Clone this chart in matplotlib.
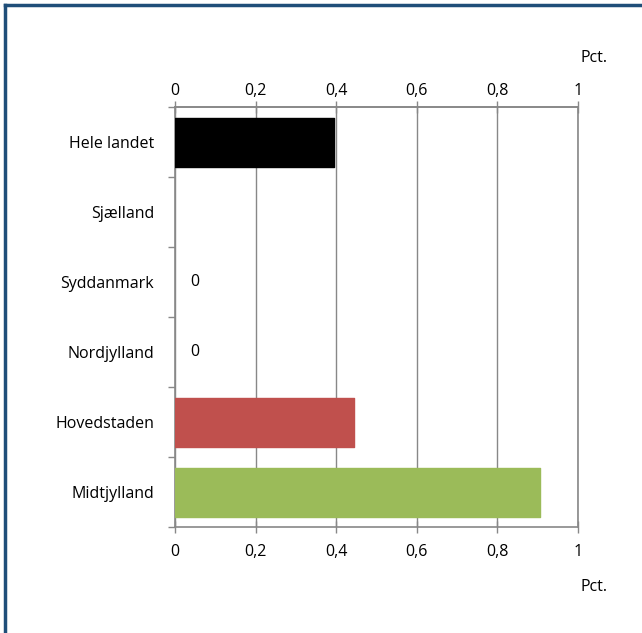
import numpy as np
import matplotlib
matplotlib.use('Agg')
import matplotlib.pyplot as plt
from matplotlib.lines import Line2D

# data
regions = ['Hele landet', 'Sjælland', 'Syddanmark', 'Nordjylland', 'Hovedstaden', 'Midtjylland']
values = [0.395, None, 0.0, 0.0, 0.445, 0.905]
colors = ['#000000', '#000000', '#4F81BD', '#4F81BD', '#C0504D', '#9BBB59']
xticks = [0, 0.2, 0.4, 0.6, 0.8, 1.0]
xticklabels = ['0', '0,2', '0,4', '0,6', '0,8', '1']

plt.rcParams['font.family'] = ['Open Sans', 'DejaVu Sans']
fs = 11.5
grey = '#888888'

fig = plt.figure(figsize=(6.42, 6.33), dpi=100)
ax = fig.add_axes([175/642, 1 - 527/633, 403/642, 420/633])

ypos = np.arange(len(regions))
for y, v, c in zip(ypos, values, colors):
    if v is None:
        continue
    if v > 0:
        ax.barh(y, v, height=0.7, color=c, edgecolor=c, linewidth=1, joinstyle='round', zorder=3)
    else:
        # zero value -> only a data label
        ax.text(0.05, y, '0', ha='center', va='center', fontsize=fs, zorder=4)

ax.set_ylim(len(regions) - 0.5, -0.5)
ax.set_xlim(0, 1)
ax.set_yticks(ypos)
ax.set_yticklabels(regions, fontsize=fs)
ax.set_yticks(np.arange(-0.5, len(regions)), minor=True)
ax.tick_params(axis='y', which='major', length=0, pad=15)
ax.tick_params(axis='y', which='minor', length=5, color=grey, width=1)

ax.set_xticks(xticks)
ax.set_xticklabels(xticklabels, fontsize=fs)
ax.tick_params(axis='x', top=False, bottom=True, direction='inout',
               length=8, color=grey, width=1, pad=8)
ax.xaxis.grid(True, color=grey, linewidth=1, zorder=0)

# top axis with its own padding
top = ax.secondary_xaxis('top')
top.set_xticks(xticks)
top.set_xticklabels(xticklabels, fontsize=fs)
top.tick_params(direction='inout', length=8, color=grey, width=1, pad=2)
top.spines['top'].set_color(grey)
top.spines['top'].set_linewidth(1.2)

for s in ['top', 'bottom', 'left', 'right']:
    ax.spines[s].set_color(grey)
    ax.spines[s].set_linewidth(1.2)

fig.text(594/642, 1 - 58/633, 'Pct.', ha='center', va='center', fontsize=fs)
fig.text(594/642, 1 - 587/633, 'Pct.', ha='center', va='center', fontsize=fs)

# blue frame around the chart (top and left edges visible)
blue = '#1F4E79'
fig.add_artist(Line2D([5/642, 1], [1 - 5/633, 1 - 5/633], color=blue, linewidth=2.5, transform=fig.transFigure))
fig.add_artist(Line2D([5/642, 5/642], [0, 1 - 5/633], color=blue, linewidth=2.5, transform=fig.transFigure))

plt.savefig('out.png', dpi=100)
plt.close()
